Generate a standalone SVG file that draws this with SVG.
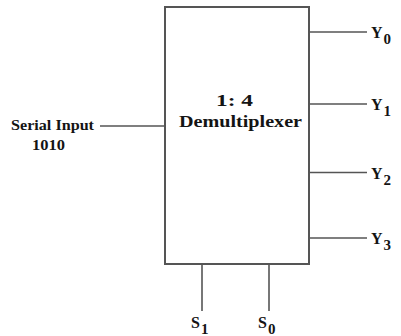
<svg xmlns="http://www.w3.org/2000/svg" width="401" height="336" viewBox="0 0 401 336">
<style>
.ln{stroke:#555;stroke-width:1.6;fill:none}
.box{fill:#fff;stroke:#555;stroke-width:2}
text{font-family:"Liberation Serif","Times New Roman",serif;font-weight:bold;fill:#141414}
.lbl{font-size:16px}
.sub{font-size:15px}
.inp{font-size:15px}
.mid{font-size:17px}
</style>
<rect width="401" height="336" fill="#fff"/>
<g id="connectors">
<line class="ln" x1="100" y1="126" x2="165" y2="126"/>
<line class="ln" x1="309" y1="32" x2="367" y2="32"/>
<line class="ln" x1="309" y1="104" x2="367" y2="104"/>
<line class="ln" x1="309" y1="172.5" x2="367" y2="172.5"/>
<line class="ln" x1="309" y1="238" x2="367" y2="238"/>
<line class="ln" x1="202" y1="264" x2="202" y2="311"/>
<line class="ln" x1="269" y1="264" x2="269" y2="311"/>
</g>
<g id="demux">
<rect class="box" x="165" y="7" width="144" height="257"/>
<text class="mid" x="216" y="106" textLength="37" lengthAdjust="spacingAndGlyphs">1: 4</text>
<text class="mid" x="179" y="127" textLength="123" lengthAdjust="spacingAndGlyphs">Demultiplexer</text>
</g>
<g id="input">
<text class="inp" x="11" y="130" textLength="83" lengthAdjust="spacingAndGlyphs">Serial Input</text>
<text class="inp" x="32" y="150" textLength="33" lengthAdjust="spacingAndGlyphs">1010</text>
</g>
<g id="y0"><text class="lbl" x="371" y="38">Y<tspan class="sub" dx="1" dy="6">0</tspan></text></g>
<g id="y1"><text class="lbl" x="371" y="110">Y<tspan class="sub" dx="1" dy="6">1</tspan></text></g>
<g id="y2"><text class="lbl" x="371" y="178.5">Y<tspan class="sub" dx="1" dy="6">2</tspan></text></g>
<g id="y3"><text class="lbl" x="371" y="244">Y<tspan class="sub" dx="1" dy="6">3</tspan></text></g>
<g id="s1"><text class="lbl" x="191" y="328">S<tspan class="sub" dx="1" dy="6">1</tspan></text></g>
<g id="s0"><text class="lbl" x="258" y="328">S<tspan class="sub" dx="1" dy="6">0</tspan></text></g>
</svg>
